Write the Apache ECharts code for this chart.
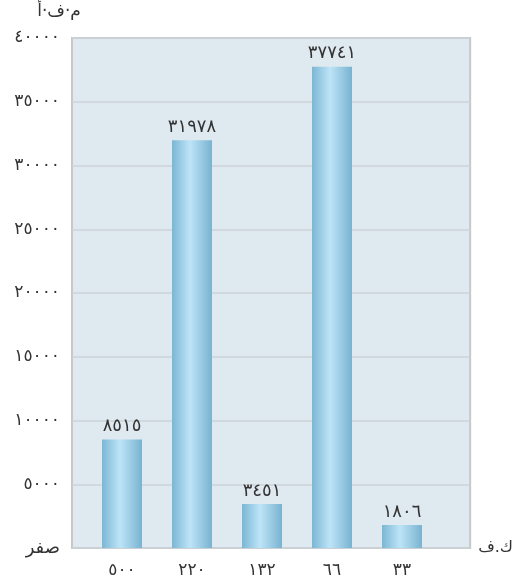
<!DOCTYPE html>
<html>
<head>
<meta charset="utf-8">
<script src="https://cdn.jsdelivr.net/npm/echarts@6/dist/echarts.min.js"></script>
<style>html,body{margin:0;padding:0;background:#fff}#c{width:516px;height:582px}</style>
</head>
<body>
<div id="c"></div>
<script>
const categories = ['٥٠٠', '٢٢٠', '١٣٢', '٦٦', '٣٣'];
const values = [8515, 31978, 3451, 37741, 1806];
const yTicks = [0, 5000, 10000, 15000, 20000, 25000, 30000, 35000, 40000];
const yName = 'م·ف·أ';
const xName = 'ك.ف';
const zeroLabel = 'صفر';

const digits = '٠١٢٣٤٥٦٧٨٩';
function toArabic(n) { return String(n).replace(/[0-9]/g, d => digits[+d]); }

const font = 'DejaVu Sans';
const chart = echarts.init(document.getElementById('c'), null, { renderer: 'canvas' });
chart.setOption({
  animation: false,
  textStyle: { fontFamily: font },
  grid: [
    { left: 72, right: 42, top: 38, bottom: 34, show: true, backgroundColor: '#dfe9f0', borderColor: '#c8c8c8', borderWidth: 2 },
    { left: 87, width: 350, top: 38, bottom: 34 }
  ],
  xAxis: [
    { gridIndex: 0, type: 'value', min: 0, max: 1, axisLine: { show: false }, axisTick: { show: false }, axisLabel: { show: false }, splitLine: { show: false },
      name: xName, nameLocation: 'end', nameGap: 8, nameTextStyle: { fontFamily: font, fontSize: 16, color: '#333', align: 'left', verticalAlign: 'middle' } },
    { gridIndex: 1, type: 'category', data: categories, axisLine: { show: false }, axisTick: { show: false },
      axisLabel: { margin: 14, fontSize: 17, color: '#333', fontFamily: font } }
  ],
  yAxis: [
    { gridIndex: 0, type: 'value', min: yTicks[0], max: yTicks[yTicks.length - 1], interval: yTicks[1] - yTicks[0],
      axisLine: { show: false }, axisTick: { show: false },
      splitLine: { lineStyle: { color: '#cdd3d8', width: 1.5 } },
      axisLabel: { margin: 12, fontSize: 17, color: '#333', fontFamily: font,
        formatter: v => v === 0 ? '{z|' + zeroLabel + '}' : toArabic(v),
        rich: { z: { fontSize: 18, color: '#333', fontFamily: font } } },
      name: yName, nameLocation: 'end', nameGap: 18,
      nameTextStyle: { fontFamily: font, fontSize: 17, color: '#333', align: 'center', padding: [0, 26, 0, 0] } },
    { gridIndex: 1, type: 'value', min: yTicks[0], max: yTicks[yTicks.length - 1], show: false, splitLine: { show: false } }
  ],
  series: [{
    type: 'bar', xAxisIndex: 1, yAxisIndex: 1, data: values, barWidth: 40,
    itemStyle: { color: new echarts.graphic.LinearGradient(0, 0, 1, 0, [
      { offset: 0, color: '#7bb6d3' }, { offset: 0.45, color: '#bde4f7' }, { offset: 1, color: '#78b3d1' }
    ]) },
    label: { show: true, position: 'top', distance: 4, fontSize: 18, color: '#333', fontFamily: font, formatter: p => toArabic(p.value) }
  }]
});
</script>
</body>
</html>
